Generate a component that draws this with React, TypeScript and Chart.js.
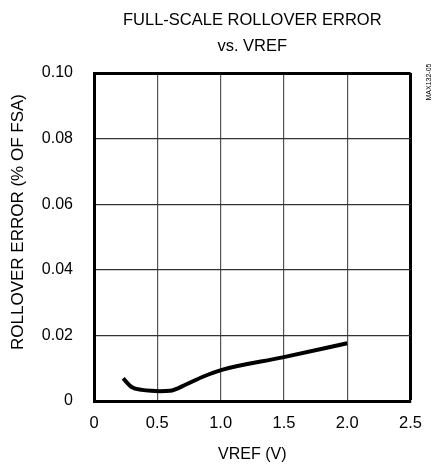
import React, { useEffect, useRef } from "react";
import { Chart, registerables } from "chart.js";

Chart.register(...registerables);

const vref = [0.23, 0.3, 0.38, 0.45, 0.52, 0.6, 0.73, 0.86, 1.01, 1.49, 2.0];
const rolloverError = [0.0069, 0.0042, 0.0034, 0.0031, 0.003, 0.0031, 0.0051, 0.0074, 0.0095, 0.0133, 0.0176];
const xTickLabels = ["0", "0.5", "1.0", "1.5", "2.0", "2.5"];
const yTickLabels = ["0", "0.02", "0.04", "0.06", "0.08", "0.10"];
const titleLines = ["FULL-SCALE ROLLOVER ERROR", "vs. VREF"];
const xTitle = "VREF (V)";
const yTitle = "ROLLOVER ERROR (% OF FSA)";
const figureCode = "MAX132-05";

const FONT = "'Liberation Sans', Arial, sans-serif";

const extraTextPlugin = {
  id: "extraText",
  afterDraw(chart: any) {
    const ctx = chart.ctx;
    ctx.save();
    ctx.fillStyle = "#000";
    ctx.textAlign = "center";
    ctx.textBaseline = "middle";
    // figure code, rotated, right of the plot
    ctx.save();
    ctx.translate(429, 82);
    ctx.rotate(-Math.PI / 2);
    ctx.font = `7px ${FONT}`;
    ctx.fillText(figureCode, 0, 0);
    ctx.restore();
    // y-axis title
    ctx.save();
    ctx.translate(18, 222);
    ctx.rotate(-Math.PI / 2);
    ctx.font = `17px ${FONT}`;
    ctx.fillText(yTitle, 0, 0);
    ctx.restore();
    ctx.restore();
  },
};

export default function App() {
  const ref = useRef<HTMLCanvasElement | null>(null);
  useEffect(() => {
    if (!ref.current) return;
    Chart.defaults.color = "#000";
    const chart = new Chart(ref.current, {
      type: "line",
      data: {
        datasets: [
          {
            data: vref.map((x, i) => ({ x, y: rolloverError[i] })),
            borderColor: "#000",
            borderWidth: 4,
            pointRadius: 0,
            tension: 0.4,
            cubicInterpolationMode: "monotone",
            fill: false,
          },
        ],
      },
      options: {
        responsive: false,
        animation: false,
        layout: { padding: { top: 0, left: 0, right: 13, bottom: 0 } },
        plugins: {
          legend: { display: false },
          tooltip: { enabled: false },
          title: {
            display: true,
            fullSize: false,
            text: titleLines,
            color: "#000",
            font: { family: FONT, size: 16.5, weight: "normal", lineHeight: 26 / 16.5 },
            padding: { top: 7, bottom: 14 },
          },
        },
        scales: {
          x: {
            type: "linear",
            min: 0,
            max: 2.5,
            ticks: {
              stepSize: 0.5,
              padding: 13,
              color: "#000",
              font: { family: FONT, size: 16.5 },
              callback: (_v: any, i: number) => xTickLabels[i],
            },
            grid: {
              drawTicks: false,
              color: (c: any) => (c.tick && c.tick.value >= 2.5 ? "#000" : "#555"),
              lineWidth: (c: any) => (c.tick && c.tick.value >= 2.5 ? 3 : 1.2),
            },
            border: { display: true, color: "#000", width: 3 },
            title: {
              display: true,
              text: xTitle,
              color: "#000",
              font: { family: FONT, size: 16 },
              padding: { top: 6, bottom: 0 },
            },
            afterFit: (s: any) => {
              s.height = 63;
            },
          },
          y: {
            type: "linear",
            min: 0,
            max: 0.1,
            ticks: {
              stepSize: 0.02,
              padding: 21,
              color: "#000",
              font: { family: FONT, size: 16 },
              callback: (_v: any, i: number) => yTickLabels[i],
            },
            grid: {
              drawTicks: false,
              color: (c: any) => (c.tick && c.tick.value >= 0.0999 ? "#000" : "#333"),
              lineWidth: (c: any) => (c.tick && c.tick.value >= 0.0999 ? 3 : 1.2),
            },
            border: { display: true, color: "#000", width: 3 },
            title: { display: false },
            afterFit: (s: any) => {
              s.width = 94;
            },
          },
        },
      },
      plugins: [extraTextPlugin],
    } as any);
    return () => chart.destroy();
  }, []);
  return (
    <div style={{ position: "fixed", left: 0, top: 0, width: 435, height: 464, background: "#fff" }}>
      <canvas ref={ref} width={435} height={464} style={{ display: "block" }} />
    </div>
  );
}
